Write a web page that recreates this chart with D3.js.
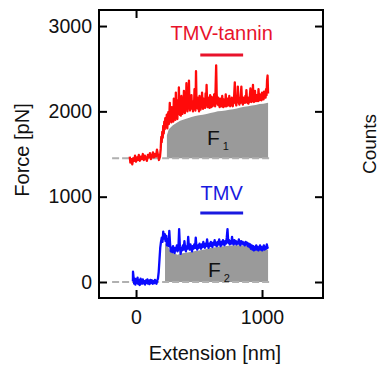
<!DOCTYPE html>
<html>
<head>
<meta charset="utf-8">
<script src="https://cdn.jsdelivr.net/npm/d3@7"></script>
<style>
    body { margin: 0; background: #fff; }
    text { font-family: "Liberation Sans", Arial, sans-serif; }
</style>
</head>
<body>
<div class="force-chart"></div>
<script>
// TMV-tannin trace, [extension nm, force pN]
const tannin = [[-50,1470],[-45,1400],[-38,1440],[-30,1380],[-22,1450],[-15,1420],[-8,1480],[0,1410],[8,1460],[15,1430],[22,1490],[30,1420],[38,1470],[46,1440],[54,1500],[62,1430],[70,1480],[78,1450],[86,1420],[94,1490],[102,1460],[110,1510],[118,1440],[126,1470],[134,1520],[142,1460],[150,1500],[158,1470],[166,1550],[174,1490],[182,1430],[190,1470],
    [196,1560],[200,1700],[204,1640],[208,1760],[212,1690],[216,1830],[220,1740],[224,1880],[228,1790],[232,1920],[236,1820],[240,1870],[244,1960],[248,1800],[252,1890],[256,1990],[260,1850],[264,1940],[268,2100],[272,1900],[276,1980],[280,1870],[284,2050],[288,1930],[292,2000],[296,1880],[300,2150],[304,1950],[308,2040],[312,1900],[316,2220],[320,1980],[324,2060],[328,1910],[332,2130],[336,1970],[340,2280],[344,2010],[348,1960],[352,2090],[356,1950],[360,2180],[364,2020],[368,1970],[372,2110],[376,1990],[380,2240],[384,2030],[388,1980],[392,2160],[396,2040],[400,2330],[404,2060],[408,2000],[412,2200],[416,2050],[420,2360],[424,2070],[428,2010],[432,2150],[436,2040],[440,2190],[444,2030],[448,2100],[452,2000],[456,2120],[460,2050],[464,2260],[468,2060],[472,2010],[476,2470],[480,2100],[484,2040],[488,2160],[492,2030],[496,2110],[500,2000],[504,2180],[508,2060],[512,2020],[516,2140],[520,2050],[524,2220],[528,2080],[532,2030],[536,2150],[540,2060],[544,2120],[548,2040],[552,2210],[556,2090],[560,2310],[564,2100],[568,2050],[572,2160],[576,2070],[580,2130],[584,2040],[588,2190],[592,2080],[596,2050],[600,2170],[604,2090],[608,2060],[612,2150],[616,2080],[620,2200],[624,2100],[628,2060],[632,2300],[636,2540],[640,2210],[644,2110],[648,2080],[652,2160],[656,2070],[660,2120],[664,2050],[668,2150],[672,2070],[676,2120],[680,2060],[684,2180],[688,2080],[692,2050],[696,2140],[700,2070],[704,2110],[708,2060],[712,2200],[716,2090],[720,2060],[724,2150],[728,2080],[732,2120],[736,2070],[740,2180],[744,2090],[748,2060],[752,2130],[756,2080],[760,2160],[764,2090],[768,2060],[772,2150],[776,2100],[780,2220],[784,2340],[788,2160],[792,2090],[796,2070],[800,2150],[804,2110],[808,2290],[812,2170],[816,2100],[820,2080],[824,2140],[828,2100],[832,2190],[836,2290],[840,2150],[844,2100],[848,2080],[852,2160],[856,2110],[860,2140],[864,2100],[868,2180],[872,2110],[876,2250],[880,2140],[884,2100],[888,2160],[892,2090],[896,2150],[900,2110],[904,2190],[908,2270],[912,2140],[916,2110],[920,2180],[924,2120],[928,2310],[932,2160],[936,2110],[940,2170],[944,2240],[948,2140],[952,2120],[956,2190],[960,2130],[964,2170],[968,2120],[972,2260],[976,2150],[980,2130],[984,2200],[988,2140],[992,2180],[996,2130],[1000,2220],[1004,2160],[1008,2200],[1012,2140],[1016,2230],[1020,2170],[1024,2210],[1028,2160],[1032,2260],[1036,2190],[1040,2360],[1044,2420],[1048,2210]];

// TMV trace
const tmv = [[-25,10],[-24,120],[-20,60],[-15,-20],[-10,40],[-5,-30],[0,30],[6,-10],[12,50],[18,-25],[24,20],[30,-35],[36,40],[42,0],[48,-20],[54,30],[60,-15],[66,10],[72,-30],[78,20],[84,-10],[90,30],[96,-20],[102,15],[108,-25],[114,25],[120,-10],[126,20],[132,-20],[138,10],[144,-15],[150,25],[156,0],[162,-20],[168,15],[174,40],[180,120],[186,260],[192,400],[198,470],[204,520],[210,470],[216,590],[222,510],[228,560],[234,480],[240,540],[246,430],[252,500],[258,420],[264,600],[270,450],[276,360],[282,400],[288,350],[294,420],[300,380],[306,340],[312,400],[318,370],[324,430],[330,360],[336,390],[342,620],[348,420],[354,330],[360,400],[366,370],[372,430],[378,380],[384,480],[390,400],[396,360],[402,420],[408,390],[414,530],[420,410],[426,380],[432,440],[438,400],[444,360],[450,420],[456,390],[462,440],[468,400],[474,520],[480,410],[486,380],[492,430],[498,400],[504,450],[510,420],[516,390],[522,440],[528,410],[534,470],[540,420],[546,400],[552,450],[558,420],[564,500],[570,430],[576,400],[582,450],[588,420],[594,470],[600,430],[606,410],[612,460],[618,440],[624,490],[630,430],[636,460],[642,420],[648,470],[654,440],[660,500],[666,450],[672,420],[678,470],[684,440],[690,490],[696,450],[702,430],[708,480],[714,450],[720,520],[726,620],[732,460],[738,490],[744,440],[750,480],[756,450],[762,530],[768,460],[774,440],[780,490],[786,450],[792,480],[798,440],[804,470],[810,450],[816,500],[822,450],[828,430],[834,480],[840,450],[846,470],[852,440],[858,460],[864,430],[870,470],[876,440],[882,460],[888,420],[894,450],[900,410],[906,440],[912,390],[918,430],[924,380],[930,420],[936,370],[942,410],[948,380],[954,430],[960,380],[966,410],[972,370],[978,400],[984,430],[990,380],[996,410],[1002,370],[1008,400],[1014,430],[1020,380],[1026,410],[1032,390],[1038,440],[1044,400],[1048,410]];

// shaded plateau areas (F1, F2)
const fill1 = [[245,1720],[260,1790],[290,1835],[320,1865],[350,1890],[380,1905],[410,1920],[440,1935],[470,1945],[500,1955],[530,1960],[560,1970],[590,1980],[620,1990],[650,2000],[680,2005],[710,2010],[740,2020],[770,2025],[800,2035],[830,2045],[860,2055],[890,2060],[920,2070],[950,2075],[980,2085],[1010,2090],[1048,2100]];
const fill2 = [[230,460],[250,420],[270,370],[290,340],[310,330],[330,320],[350,330],[380,340],[420,350],[460,360],[500,370],[540,380],[580,395],[620,405],[660,415],[700,420],[740,425],[780,430],[820,430],[860,425],[900,420],[940,400],[980,390],[1020,385],[1048,380]];

const baselines = [1450, 0];
const baseExt = [-190, 1060];
const barExt = [510, 850];
const barForce = [2660, 810];
const labels = ["TMV-tannin", "TMV"];
const labelForce = [2837, 961];
const fLabels = [{sub: "1", ext: 563, force: 1606}, {sub: "2", ext: 571, force: 59}];

const xTicks = [0, 1000];
const yTicks = [0, 1000, 2000, 3000];

const width = 380, height = 367;
const margin = {left: 99, right: 323, top: 10, bottom: 298};

let svg = d3.select(".force-chart").append("svg")
    .attr("width", width)
    .attr("height", height);

let x = d3.scaleLinear().domain([-294, 1484]).range([margin.left, margin.right]);
let y = d3.scaleLinear().domain([-187.5, 3188]).range([margin.bottom, margin.top]);

let area = d3.area()
    .x(d => x(d[0]))
    .y1(d => y(d[1]));
let line = d3.line()
    .x(d => x(d[0]))
    .y(d => y(d[1]));

// gray shaded areas
[fill1, fill2].forEach((f, i) => {
    svg.append("path")
        .attr("d", area.y0(y(baselines[i]))(f))
        .attr("fill", "#9a9a9a");
});

// dashed zero lines
svg.append("g")
    .selectAll("line")
    .data(baselines)
    .join("line")
    .attr("x1", x(baseExt[0]))
    .attr("x2", x(baseExt[1]))
    .attr("y1", d => y(d))
    .attr("y2", d => y(d))
    .attr("stroke", "#b0b0b0")
    .attr("stroke-width", 2)
    .attr("stroke-dasharray", "7,3");

const colors = ["#ff0a0a", "#0a0aff"];
const textColors = ["#e8132b", "#1a1ae0"];

[tannin, tmv].forEach((t, i) => {
    svg.append("path")
        .attr("d", line(t))
        .attr("fill", "none")
        .attr("stroke", colors[i])
        .attr("stroke-width", 2.3)
        .attr("stroke-linejoin", "round");
});

// bars and labels above each trace
svg.append("g")
    .selectAll("line")
    .data(barForce)
    .join("line")
    .attr("x1", x(barExt[0]))
    .attr("x2", x(barExt[1]))
    .attr("y1", d => y(d))
    .attr("y2", d => y(d))
    .attr("stroke", (_, i) => textColors[i])
    .attr("stroke-width", 3);

svg.append("g")
    .selectAll("text")
    .data(labels)
    .join("text")
    .attr("x", x((barExt[0] + barExt[1]) / 2))
    .attr("y", (_, i) => y(labelForce[i]))
    .attr("text-anchor", "middle")
    .attr("font-size", 20)
    .attr("fill", (_, i) => textColors[i])
    .text(d => d);

let fText = svg.append("g")
    .selectAll("text")
    .data(fLabels)
    .join("text")
    .attr("x", d => x(d.ext))
    .attr("y", d => y(d.force))
    .attr("font-size", 21)
    .attr("fill", "#111");
fText.append("tspan").text("F");
fText.append("tspan")
    .attr("font-size", 11)
    .attr("dx", 3)
    .attr("dy", 5)
    .text(d => d.sub);

// axes, all ticks inward
let axisFont = g => g.selectAll("text")
    .attr("font-size", 19.5)
    .attr("font-family", "Liberation Sans, Arial, sans-serif")
    .attr("fill", "#111");

svg.append("g")
    .attr("transform", `translate(${margin.left},0)`)
    .call(d3.axisLeft(y).tickValues(yTicks).tickSize(-8).tickPadding(7).tickFormat(d3.format("d")))
    .call(axisFont);
svg.append("g")
    .attr("transform", `translate(${margin.right},0)`)
    .call(d3.axisRight(y).tickValues(yTicks).tickSize(-8).tickFormat(""));
svg.append("g")
    .attr("transform", `translate(0,${margin.bottom})`)
    .call(d3.axisBottom(x).tickValues(xTicks).tickSize(-8).tickPadding(12).tickFormat(d3.format("d")))
    .call(axisFont);
svg.append("g")
    .attr("transform", `translate(0,${margin.top})`)
    .call(d3.axisTop(x).tickValues([0]).tickSize(-8).tickFormat(""));

svg.selectAll(".domain").remove();
svg.selectAll(".tick line").attr("stroke", "#000").attr("stroke-width", 2);

svg.append("rect")
    .attr("x", margin.left)
    .attr("y", margin.top)
    .attr("width", margin.right - margin.left)
    .attr("height", margin.bottom - margin.top)
    .attr("fill", "none")
    .attr("stroke", "#000")
    .attr("stroke-width", 2);

// axis titles
svg.append("text")
    .attr("x", 215)
    .attr("y", 360)
    .attr("text-anchor", "middle")
    .attr("font-size", 20)
    .attr("fill", "#111")
    .text("Extension [nm]");
svg.append("text")
    .attr("transform", "translate(29,150) rotate(-90)")
    .attr("text-anchor", "middle")
    .attr("font-size", 20)
    .attr("fill", "#111")
    .text("Force [pN]");
svg.append("text")
    .attr("transform", "translate(376,144) rotate(-90)")
    .attr("text-anchor", "middle")
    .attr("font-size", 19)
    .attr("fill", "#111")
    .text("Counts");
</script>
</body>
</html>
